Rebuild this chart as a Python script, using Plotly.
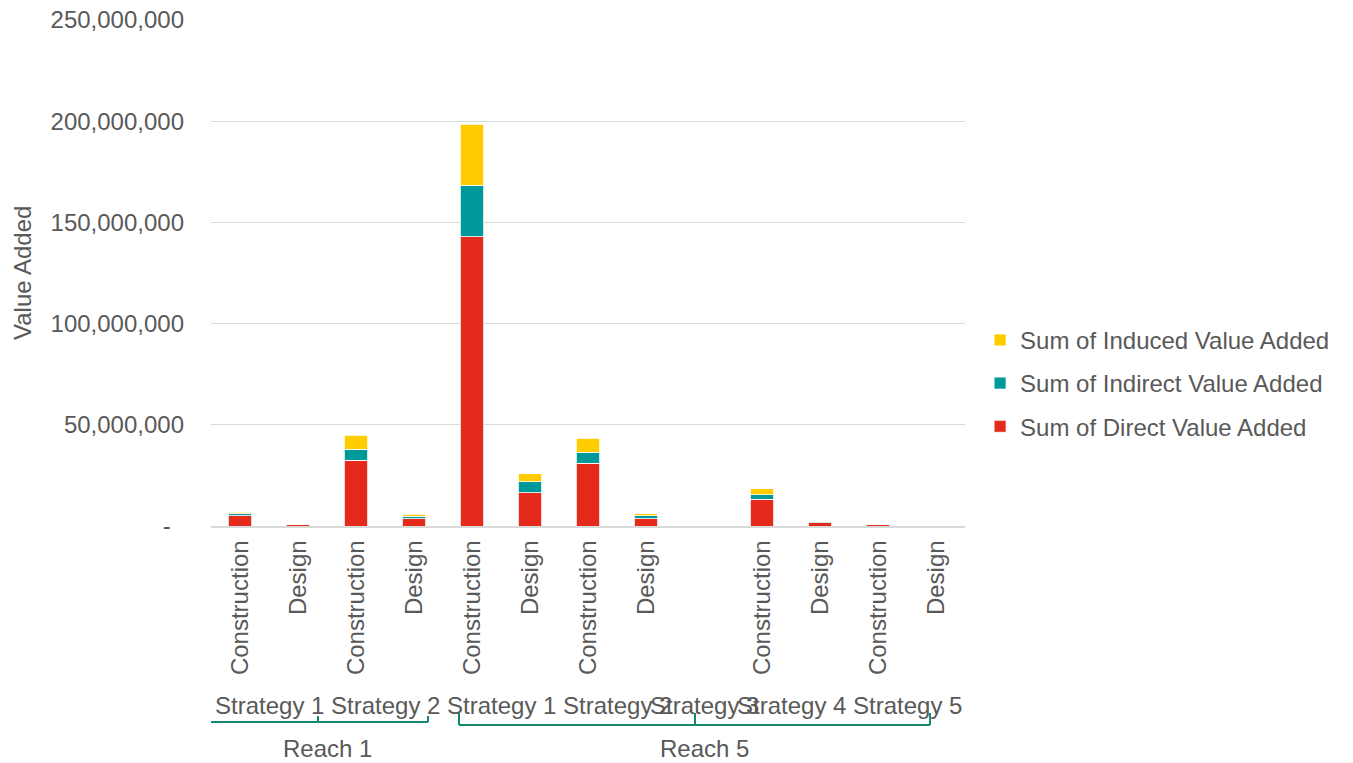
import plotly.graph_objects as go

# ---- data (values in currency units) ----
reach = ["Reach 1"] * 4 + ["Reach 5"] * 9
strategy = ["Strategy 1", "Strategy 1", "Strategy 2", "Strategy 2",
            "Strategy 1", "Strategy 1", "Strategy 2", "Strategy 2",
            "Strategy 3", "Strategy 4", "Strategy 4", "Strategy 5", "Strategy 5"]
phase = ["Construction", "Design", "Construction", "Design",
         "Construction", "Design", "Construction", "Design",
         "", "Construction", "Design", "Construction", "Design"]
direct_m = [5.0, 0.5, 32.6, 3.6, 142.9, 16.5, 31.1, 3.5, None, 13.2, 1.5, 0.5, 0.25]
indirect_m = [1.0, 0.2, 5.4, 1.2, 25.5, 5.4, 5.4, 1.5, None, 2.3, 0.6, 0.25, 0.15]
induced_m = [0.9, 0.2, 6.9, 1.0, 30.1, 3.8, 6.8, 1.0, None, 3.0, 0.3, 0.25, 0.1]
ytick_vals = [0, 50e6, 100e6, 150e6, 200e6, 250e6]

direct = [v * 1e6 if v is not None else None for v in direct_m]
indirect = [v * 1e6 if v is not None else None for v in indirect_m]
induced = [v * 1e6 if v is not None else None for v in induced_m]

x = list(range(len(phase)))
GREY = "#595959"
FONT = "Liberation Sans, Arial, sans-serif"
FS = 24

fig = go.Figure()
series = [
    ("Sum of Direct Value Added", direct, "#E5291A", "g1", 3),
    ("Sum of Indirect Value Added", indirect, "#009999", "g2", 2),
    ("Sum of Induced Value Added", induced, "#FFCC00", "g3", 1),
]
for name, vals, col, grp, rank in series:
    fig.add_trace(go.Bar(
        x=x, y=vals, name=name, legendgroup=grp, legendrank=rank,
        marker=dict(color=col, line=dict(color="white", width=0.8)),
        hoverinfo="y+name",
    ))

ytick_text = ["-\u00a0\u00a0" if v == 0 else f"{int(v):,}" for v in ytick_vals]

fig.update_layout(
    barmode="stack",
    bargap=0.6,
    width=1353, height=763,
    margin=dict(l=211, r=388, t=20, b=237, autoexpand=False),
    plot_bgcolor="white", paper_bgcolor="white",
    font=dict(family=FONT, size=FS, color=GREY),
    legend=dict(
        traceorder="grouped", x=1.02, y=0.282, xanchor="left", yanchor="middle",
        tracegroupgap=9, font=dict(size=FS, color=GREY), bgcolor="rgba(0,0,0,0)",
    ),
    showlegend=True,
)
fig.update_xaxes(
    range=[-0.5, len(phase) - 0.5],
    tickmode="array",
    tickvals=[i for i, p in enumerate(phase) if p],
    ticktext=[p for p in phase if p],
    tickangle=-90, automargin=False,
    ticks="", showgrid=False, zeroline=False,
    showline=True, linecolor="#d9d9d9", linewidth=1.5,
    ticklabelstandoff=3,
    tickfont=dict(size=FS, color=GREY),
)
fig.update_yaxes(
    range=[0, 250e6], automargin=False,
    tickmode="array", tickvals=ytick_vals, ticktext=ytick_text,
    showgrid=True, gridcolor="#d9d9d9", gridwidth=1.2,
    zeroline=False, showline=False, ticks="",
    ticklabelstandoff=26,
    tickfont=dict(size=FS, color=GREY),
)

annotations = []
# y-axis title
annotations.append(dict(
    text="Value Added", xref="paper", yref="paper", x=0, y=0.5,
    xshift=-189, textangle=-90, showarrow=False,
    font=dict(size=FS, color=GREY), xanchor="center", yanchor="middle",
))

# strategy labels (second level)
def runs(labels, parent):
    out = []
    start = 0
    for i in range(1, len(labels) + 1):
        if i == len(labels) or labels[i] != labels[start] or parent[i] != parent[start]:
            out.append((labels[start], start, i - 1))
            start = i
    return out

for lab, a, b in runs(strategy, reach):
    annotations.append(dict(
        text=lab, xref="x", yref="paper", x=(a + b) / 2, y=0, yshift=-179,
        showarrow=False, xanchor="center", yanchor="middle",
        font=dict(size=FS, color=GREY),
    ))
for lab, a, b in runs(reach, reach):
    annotations.append(dict(
        text=lab, xref="x", yref="paper", x=(a + b) / 2, y=0, yshift=-222,
        showarrow=False, xanchor="center", yanchor="middle",
        font=dict(size=FS, color=GREY),
    ))
fig.update_layout(annotations=annotations)

# group brackets (decoration)
BR = "#138A6E"
def pline(x0, x1, y0, y1):
    return dict(type="line", xref="x", yref="paper", ysizemode="pixel", yanchor=0,
                x0=x0, x1=x1, y0=y0, y1=y1, line=dict(color=BR, width=2))

shapes = []
# Reach 1 bracket
shapes.append(pline(-0.534, 3.241, -196, -196))
for xx in (-0.534, 1.345, 3.241):
    shapes.append(pline(xx, xx, -196, -190))
# Reach 5 bracket
shapes.append(pline(3.776, 11.897, -199, -199))
for xx in (3.776, 7.845, 11.897):
    shapes.append(pline(xx, xx, -199, -187))
fig.update_layout(shapes=shapes)

fig.write_html("out.html")
